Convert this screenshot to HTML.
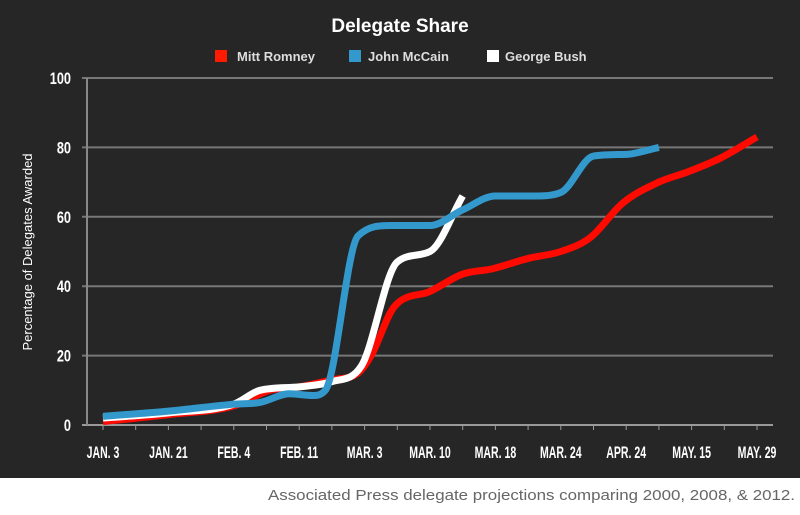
<!DOCTYPE html>
<html><head><meta charset="utf-8"><style>
body{margin:0;width:800px;height:510px;background:#fff;overflow:hidden;font-family:"Liberation Sans",sans-serif}
</style></head><body>
<svg width="800" height="510" xmlns="http://www.w3.org/2000/svg">
<rect x="0" y="0" width="800" height="478" fill="#262626"/>
<text x="400" y="32" text-anchor="middle" fill="#fff" font-size="19" font-weight="bold">Delegate Share</text>
<g font-size="13" font-weight="bold" fill="#ddd">
<g><rect x="215" y="50" width="12" height="12" fill="#ff1a00"/><text x="237" y="61">Mitt Romney</text></g>
<g><rect x="349" y="50" width="12" height="12" fill="#3399cc"/><text x="368" y="61">John McCain</text></g>
<g><rect x="487" y="50" width="12" height="12" fill="#fff"/><text x="505" y="61">George Bush</text></g>
</g>
<text transform="translate(32,252) rotate(-90)" text-anchor="middle" fill="#fff" font-size="13">Percentage of Delegates Awarded</text>
<g id="grid"></g><g id="axes"></g><g id="series"></g>
<text x="268" y="500" fill="#666" font-size="15" textLength="527" lengthAdjust="spacingAndGlyphs">Associated Press delegate projections comparing 2000, 2008, &amp; 2012.</text>
</svg>
<script>
const categories=["JAN. 3","JAN. 21","FEB. 4","FEB. 11","MAR. 3","MAR. 10","MAR. 18","MAR. 24","APR. 24","MAY. 15","MAY. 29"];
const yTicks=[0,20,40,60,80,100];
const romneyX=[0,1,2,2.55,3,3.5,3.9,4.1,4.45,5,5.5,5.95,6.5,7,7.45,7.95,8.5,8.95,9.45,10];
const romneyY=[1,3,5.5,10,11,13,15,20,34,38.5,43.5,45,48,50,54,64,70,73,77,83];
const mccainX=[0,1,2,2.4,2.85,3.2,3.4,3.9,4.4,5,5.5,6,6.6,7,7.5,8,8.5];
const mccainY=[2.5,4,6,6.5,9,8.5,10,54.5,57.5,57.5,62,66,66,67,77.5,78,80];
const bushX=[0,1,2,2.4,3,3.5,3.95,4.5,5,5.5];
const bushY=[2,3.5,6,10,11,12.5,17,47,50,66];
const NS="http://www.w3.org/2000/svg";
const x=i=>103+65.4*i, y=v=>425-v*3.47;
function mk(t,a,p){const e=document.createElementNS(NS,t);for(const k in a)e.setAttribute(k,a[k]);p.appendChild(e);return e;}
const grid=document.getElementById('grid'),axes=document.getElementById('axes'),series=document.getElementById('series');
yTicks.forEach(v=>{
 const l=mk('line',{x1:82,x2:773,y1:y(v),y2:y(v),stroke:v===0?'#999':'#777','stroke-width':2},grid);
 
 
 const t=mk('text',{'text-anchor':'end',fill:'#fff','font-size':17,'font-weight':'bold',transform:`translate(71,${y(v)+6}) scale(0.75,1)`},axes);
 t.textContent=v;
 
 
});
const ya=mk('line',{x1:87,x2:87,y1:y(100),y2:y(0),stroke:'#888','stroke-width':2},axes);


for(let k=0;k<=22;k++){const xx=x(-0.5+k*0.5);if(xx<84||xx>773)continue;
 const tk=mk('line',{x1:xx,x2:xx,y1:425,y2:430,stroke:'#999','stroke-width':1},axes);
 
 }
categories.forEach((c,i)=>{
 const t=mk('text',{'text-anchor':'middle',fill:'#fff','font-size':17,'font-weight':'bold',transform:`translate(${x(i)},458) scale(0.62,1)`},axes);
 t.textContent=c;
 
 
});
function path(xs,ys){
 const px=xs.map(x),py=ys.map(y),n=px.length;
 const d=[],m=new Array(n);
 for(let i=0;i<n-1;i++)d.push((py[i+1]-py[i])/(px[i+1]-px[i]));
 m[0]=d[0];m[n-1]=d[n-2];
 for(let i=1;i<n-1;i++){m[i]=(d[i-1]*d[i]<=0)?0:(d[i-1]+d[i])/2;}
 for(let i=0;i<n-1;i++){if(d[i]===0){m[i]=0;m[i+1]=0;continue;}
  const a=m[i]/d[i],b=m[i+1]/d[i],s=a*a+b*b;if(s>9){const t=3/Math.sqrt(s);m[i]=t*a*d[i];m[i+1]=t*b*d[i];}}
 let s=`M${px[0]},${py[0]}`;
 for(let i=0;i<n-1;i++){const h=(px[i+1]-px[i])/3;
  s+=` C${px[i]+h},${py[i]+m[i]*h} ${px[i+1]-h},${py[i+1]-m[i+1]*h} ${px[i+1]},${py[i+1]}`;}
 return s;}
[[romneyX,romneyY,'#ff0a00','romney-line'],[bushX,bushY,'#ffffff','bush-line'],[mccainX,mccainY,'#3399cc','mccain-line']].forEach(s=>{
 const e=mk('path',{d:path(s[0],s[1]),fill:'none',stroke:s[2],'stroke-width':7,'stroke-linejoin':'round'},series);
 
 
});
</script>
</body></html>
